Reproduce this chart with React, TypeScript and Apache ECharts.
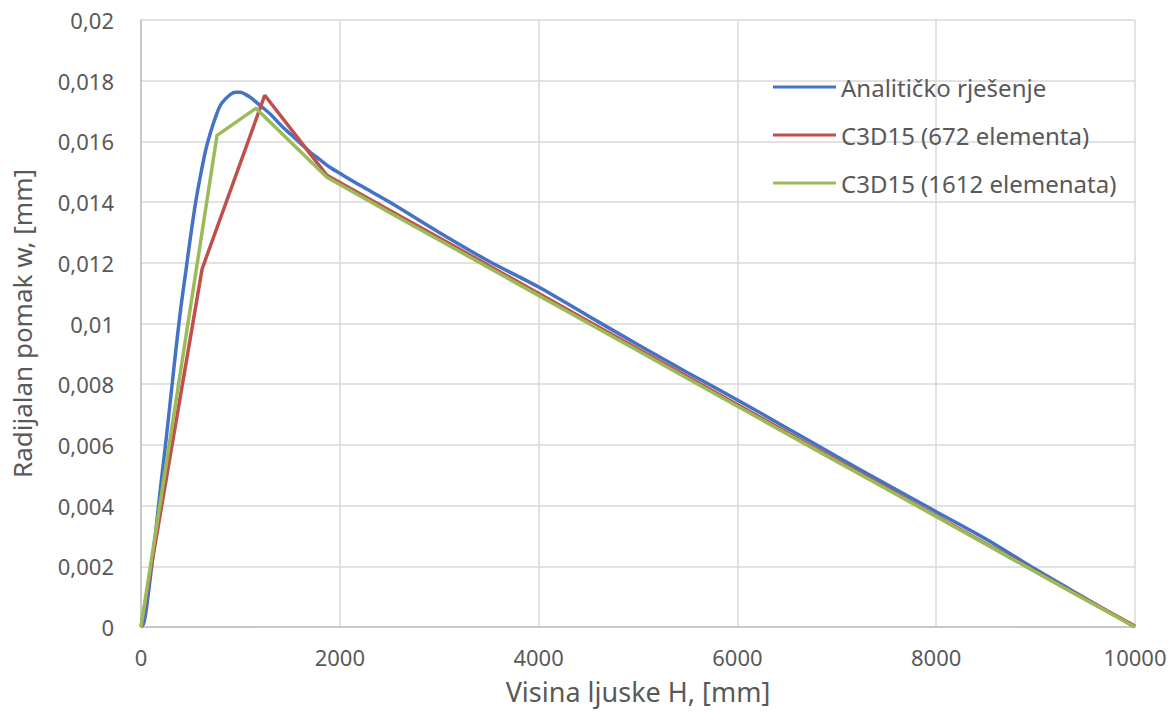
import React, { useEffect, useRef } from "react";
import * as echarts from "echarts";

const seriesNames = ["Analitičko rješenje", "C3D15 (672 elementa)", "C3D15 (1612 elemenata)"];
const seriesColors = ["#4472C4", "#C0504D", "#9BBB59"];

const analyticX = [0, 25, 50, 100, 150, 200, 250, 300, 350, 400, 450, 500, 550, 600, 650, 700, 750, 800, 850, 900, 950, 1000, 1050, 1100, 1200, 1300, 1400, 1500, 1600, 1700, 1800, 1900, 2000, 2200, 2500, 3000, 3500, 4000, 4500, 5000, 5500, 6000, 6500, 7000, 7500, 8000, 8500, 9000, 9500, 10000];
const analyticW = [0, 0.0001, 0.0005, 0.0018, 0.0032, 0.0047, 0.0061, 0.0076, 0.0091, 0.0105, 0.0117, 0.0129, 0.014, 0.0149, 0.0157, 0.0163, 0.0168, 0.0172, 0.0174, 0.01755, 0.01762, 0.01762, 0.01755, 0.01745, 0.01718, 0.0169, 0.01656, 0.01625, 0.01595, 0.01565, 0.0154, 0.01515, 0.01495, 0.01456, 0.014, 0.013, 0.01205, 0.0112, 0.01025, 0.0093, 0.00838, 0.00748, 0.00655, 0.00562, 0.0047, 0.0038, 0.0029, 0.0019, 0.00095, 0];

const c672X = [0, 615, 1245, 1870, 2500, 3125, 3750, 4375, 5000, 5625, 6250, 6875, 7500, 8125, 8750, 9375, 10000];
const c672W = [0, 0.0118, 0.01752, 0.01488, 0.01373, 0.01259, 0.01145, 0.0103, 0.00916, 0.00801, 0.00687, 0.00572, 0.00458, 0.00343, 0.00229, 0.00114, 0.00003];

const c1612X = [0, 765, 1155, 1870, 2500, 3125, 3750, 4375, 5000, 5625, 6250, 6875, 7500, 8125, 8750, 9375, 10000];
const c1612W = [0, 0.0162, 0.01709, 0.01482, 0.01366, 0.01252, 0.01138, 0.01024, 0.0091, 0.00796, 0.00682, 0.00568, 0.00455, 0.00341, 0.00227, 0.00113, 0];

const xTicks = { min: 0, max: 10000, interval: 2000 };
const yTicks = { min: 0, max: 0.02, interval: 0.002 };

const zip = (xs: number[], ys: number[]) => xs.map((x, i) => [x, ys[i]]);

export default function App() {
  const ref = useRef<HTMLDivElement>(null);
  useEffect(() => {
    if (!ref.current) return;
    const chart = echarts.init(ref.current, undefined, { renderer: "svg" });
    const font = "'Noto Sans', 'Open Sans', sans-serif";
    const textColor = "#595959";
    chart.setOption({
      animation: false,
      backgroundColor: "#ffffff",
      textStyle: { fontFamily: font },
      grid: { left: 141, right: 39, top: 20, bottom: 86, containLabel: false },
      legend: {
        data: seriesNames,
        orient: "vertical",
        left: 768,
        top: 70,
        itemWidth: 63,
        itemHeight: 3,
        itemGap: 24,
        icon: "rect",
        textStyle: { color: textColor, fontSize: 24, fontFamily: font },
      },
      xAxis: {
        type: "value",
        min: xTicks.min,
        max: xTicks.max,
        interval: xTicks.interval,
        name: "Visina ljuske H, [mm]",
        nameLocation: "middle",
        nameGap: 51,
        nameTextStyle: { color: textColor, fontSize: 27, fontFamily: font },
        axisLine: { show: true, lineStyle: { color: "#bfbfbf", width: 1.5 } },
        axisTick: { show: false },
        axisLabel: { color: textColor, fontSize: 22, margin: 19, fontFamily: font, formatter: (v: number) => String(v) },
        splitLine: { show: true, lineStyle: { color: "#d9d9d9", width: 1.5 } },
      },
      yAxis: {
        type: "value",
        min: yTicks.min,
        max: yTicks.max,
        interval: yTicks.interval,
        name: "Radijalan pomak w, [mm]",
        nameLocation: "middle",
        nameGap: 106,
        nameTextStyle: { color: textColor, fontSize: 26, fontFamily: font },
        axisLine: { show: true, lineStyle: { color: "#bfbfbf", width: 1.5 } },
        axisTick: { show: false },
        axisLabel: {
          color: textColor,
          fontSize: 22,
          margin: 27,
          fontFamily: font,
          formatter: (v: number) => String(parseFloat(v.toFixed(3))).replace(".", ","),
        },
        splitLine: { show: true, lineStyle: { color: "#d9d9d9", width: 1.5 } },
      },
      series: [
        {
          name: seriesNames[0],
          type: "line",
          data: zip(analyticX, analyticW),
          showSymbol: false,
          smooth: 0.3,
          lineStyle: { color: seriesColors[0], width: 3.5 },
          itemStyle: { color: seriesColors[0] },
        },
        {
          name: seriesNames[1],
          type: "line",
          data: zip(c672X, c672W),
          showSymbol: false,
          lineStyle: { color: seriesColors[1], width: 3.5 },
          itemStyle: { color: seriesColors[1] },
        },
        {
          name: seriesNames[2],
          type: "line",
          data: zip(c1612X, c1612W),
          showSymbol: false,
          lineStyle: { color: seriesColors[2], width: 3.5 },
          itemStyle: { color: seriesColors[2] },
        },
      ],
    });
    return () => chart.dispose();
  }, []);
  return (
    <div
      ref={ref}
      style={{ position: "absolute", left: 0, top: 0, width: 1174, height: 713 }}
    />
  );
}
